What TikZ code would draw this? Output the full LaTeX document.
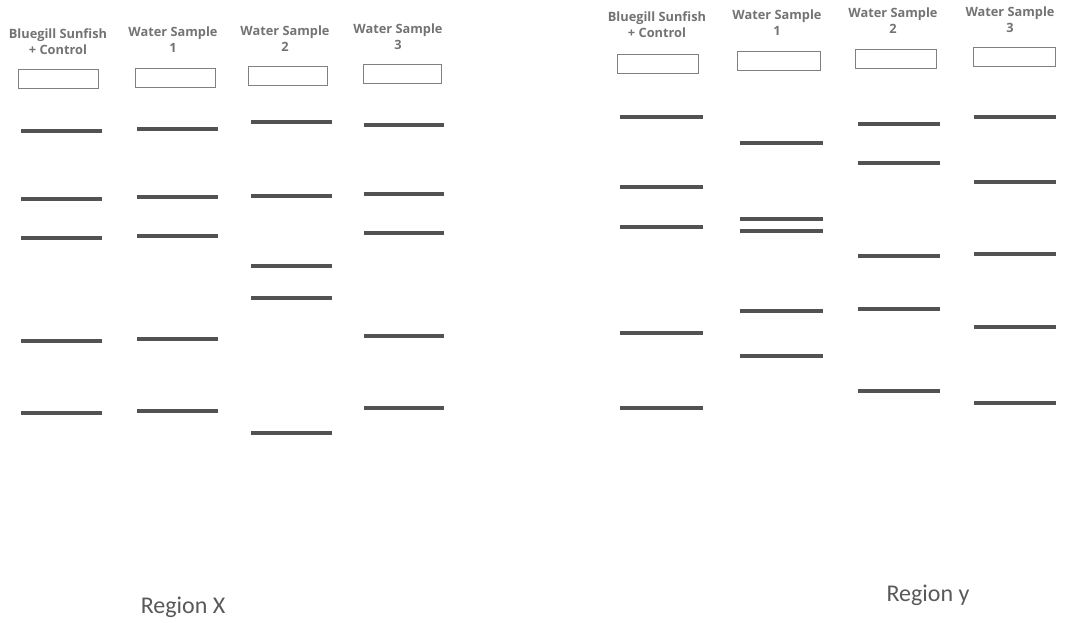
\documentclass[tikz,border=0pt]{standalone}
\usepackage{fontspec}
\setmainfont{Open Sans}
\newfontfamily\regionfont{Carlito}
\usepackage{tikz}
\tikzset{
    lanehead/.style={align=center, text=black!55, font=\bfseries\fontsize{12.8}{16}\selectfont},
    wellbox/.style={shape=rectangle, draw=black!50, line width=1pt, minimum height=19pt, inner sep=0pt},
    band/.style={draw=black!68, line width=4.2pt},
    regionlabel/.style={text=black!65, font=\regionfont\fontsize{24}{26}\selectfont}
}

\begin{document}
\begin{tikzpicture}[x=1pt, y=-1pt]
    \useasboundingbox (0,0) rectangle (1073,622);

    % Region X
    \node[lanehead] (xh1) at (58,42) {Bluegill Sunfish\\+ Control};
    \node[lanehead] (xh2) at (173,40) {Water Sample\\1};
    \node[lanehead] (xh3) at (285,39) {Water Sample\\2};
    \node[lanehead] (xh4) at (398,37) {Water Sample\\3};

    \node[wellbox, minimum width=80pt] (xw1) at (58,79) {};
    \node[wellbox, minimum width=80pt] (xw2) at (175,78) {};
    \node[wellbox, minimum width=79pt] (xw3) at (288,76) {};
    \node[wellbox, minimum width=78pt] (xw4) at (402,74) {};

    \foreach \y in {131,199,238,341,413} \draw[band] (21,\y) -- (102,\y);
    \foreach \y in {129,197,236,339,411} \draw[band] (137,\y) -- (218,\y);
    \foreach \y in {122,196,266,298,433} \draw[band] (251,\y) -- (332,\y);
    \foreach \y in {125,194,233,336,408} \draw[band] (364,\y) -- (444,\y);

    \node[regionlabel] (xlabel) at (183,607) {Region X};

    % Region y
    \node[lanehead] (yh1) at (657,25) {Bluegill Sunfish\\+ Control};
    \node[lanehead] (yh2) at (777,23) {Water Sample\\1};
    \node[lanehead] (yh3) at (893,21) {Water Sample\\2};
    \node[lanehead] (yh4) at (1010,20) {Water Sample\\3};

    \node[wellbox, minimum width=81pt] (yw1) at (658,64) {};
    \node[wellbox, minimum width=83pt] (yw2) at (779,61) {};
    \node[wellbox, minimum width=81pt] (yw3) at (896,59) {};
    \node[wellbox, minimum width=82pt] (yw4) at (1014,57) {};

    \foreach \y in {117,187,227,333,408} \draw[band] (620,\y) -- (703,\y);
    \foreach \y in {143,219,231,311,356} \draw[band] (740,\y) -- (823,\y);
    \foreach \y in {124,163,256,309,391} \draw[band] (858,\y) -- (940,\y);
    \foreach \y in {117,182,254,327,403} \draw[band] (974,\y) -- (1056,\y);

    \node[regionlabel] (ylabel) at (928,595) {Region y};
\end{tikzpicture}
\end{document}
